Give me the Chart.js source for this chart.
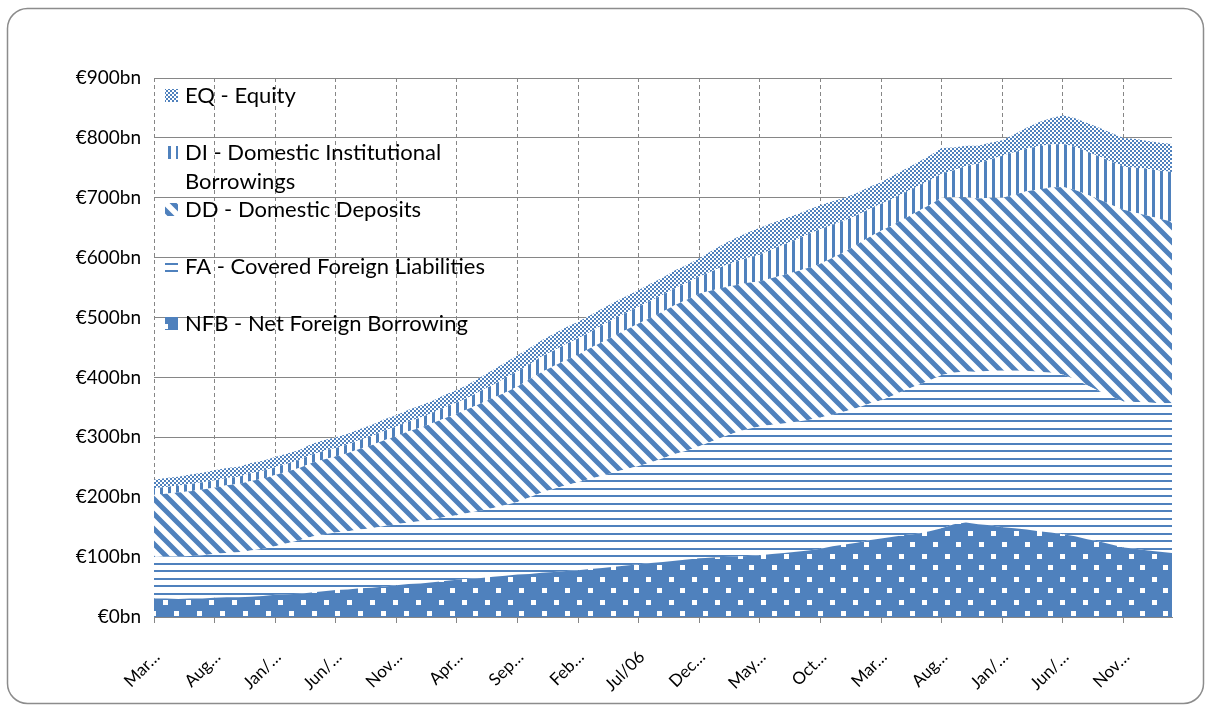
<!DOCTYPE html>
<html>
<head>
<meta charset="utf-8">
<title>Bank funding composition</title>
<script src="https://cdn.jsdelivr.net/npm/chart.js@4.4.1/dist/chart.umd.min.js"></script>
<style>
  html, body { margin: 0; padding: 0; background: #fff; }
  #wrap { position: relative; width: 1205px; height: 706px; }
</style>
</head>
<body>
<div id="wrap"><canvas id="fundingChart" width="1205" height="706"></canvas></div>
<script>
// Monthly categories, Mar/03 .. Mar/10
const monthNames = ['Jan', 'Feb', 'Mar', 'Apr', 'May', 'Jun', 'Jul', 'Aug', 'Sep', 'Oct', 'Nov', 'Dec'];
const months = [];
for (let m = 2; m <= 2 + 84; m++) {
    const yr = 3 + Math.floor(m / 12);
    months.push(monthNames[m % 12] + '/' + String(yr).padStart(2, '0'));
}

// Labels as they fit under the axis (every 5th month)
const tickLabels = ['Mar…', 'Aug…', 'Jan/…', 'Jun/…', 'Nov…', 'Apr…', 'Sep…', 'Feb…', 'Jul/06',
    'Dec…', 'May…', 'Oct…', 'Mar…', 'Aug…', 'Jan/…', 'Jun/…', 'Nov…'];

const seriesNames = ['NFB - Net Foreign Borrowing', 'FA - Covered Foreign Liabilities',
    'DD - Domestic Deposits', 'DI - Domestic Institutional Borrowings', 'EQ - Equity'];

// €bn, bottom of the stack first
const nfb = [31, 31, 30, 31, 31, 32, 33, 33, 34, 35, 37, 38, 39, 41, 43, 45, 46, 48, 49, 51, 53,
    55, 56, 58, 60, 62, 64, 65, 67, 69, 71, 72, 74, 75, 77, 78, 80, 82, 84, 86, 88,
    90, 92, 94, 96, 98, 99, 100, 101, 102, 103, 105, 107, 109, 111, 114, 118, 121, 124, 128, 131,
    134, 137, 139, 143, 148, 155, 158, 155, 153, 150, 148, 146, 143, 141, 138, 135, 130, 126, 121, 116,
    114, 111, 109, 107];
const fa = [69, 70, 71, 71, 72, 73, 74, 75, 77, 79, 81, 85, 89, 93, 95, 96, 97, 98, 99, 101, 102,
    103, 104, 105, 107, 108, 110, 113, 115, 118, 121, 128, 134, 139, 143, 147, 151, 154, 158, 161, 164,
    168, 173, 178, 182, 187, 194, 201, 207, 212, 215, 216, 216, 217, 218, 219, 220, 222, 225, 228, 231,
    236, 242, 248, 252, 256, 253, 252, 254, 258, 261, 263, 265, 266, 267, 267, 262, 257, 251, 247, 244,
    245, 247, 248, 250];
const dd = [104, 105, 107, 108, 110, 111, 113, 114, 116, 117, 119, 120, 121, 123, 125, 127, 131, 135, 139, 143, 147,
    152, 156, 161, 165, 170, 174, 179, 184, 188, 193, 197, 201, 205, 209, 213, 218, 223, 228, 233, 238,
    242, 245, 249, 252, 255, 252, 249, 246, 244, 242, 245, 248, 251, 254, 257, 262, 267, 273, 278, 283,
    285, 287, 290, 293, 296, 293, 291, 290, 289, 289, 294, 300, 305, 309, 313, 316, 318, 320, 320, 320,
    316, 312, 308, 303];
const di = [11, 11, 11, 12, 12, 12, 12, 12, 13, 13, 13, 13, 13, 14, 14, 14, 14, 15, 15, 16, 16,
    16, 17, 17, 18, 18, 19, 21, 22, 24, 25, 25, 26, 26, 27, 27, 27, 28, 28, 28, 28,
    28, 28, 28, 28, 28, 32, 36, 39, 42, 45, 48, 51, 53, 56, 58, 55, 52, 49, 47, 45,
    44, 43, 42, 41, 40, 45, 52, 58, 64, 70, 71, 71, 72, 72, 72, 72, 72, 72, 72, 72,
    75, 78, 80, 83];
const eq = [14, 15, 15, 16, 16, 17, 17, 17, 17, 17, 17, 17, 17, 18, 18, 18, 18, 18, 19, 19, 19,
    20, 20, 20, 21, 21, 22, 23, 25, 26, 27, 27, 27, 28, 28, 28, 28, 28, 28, 28, 28,
    29, 29, 30, 30, 31, 34, 37, 40, 42, 45, 44, 43, 42, 41, 40, 39, 38, 37, 37, 36,
    38, 39, 40, 41, 43, 38, 34, 30, 28, 26, 30, 35, 40, 44, 48, 48, 48, 48, 48, 48,
    48, 47, 47, 47];

const BLUE = '#4f81bd';
const GRID = '#868686';
const FONT = 'Lato, "Liberation Sans", sans-serif';

// Small repeating tiles for the hatched fills
function makePattern(w, h, paint) {
    const c = document.createElement('canvas');
    c.width = w;
    c.height = h;
    const g = c.getContext('2d');
    g.fillStyle = '#fff';
    g.fillRect(0, 0, w, h);
    g.fillStyle = BLUE;
    g.strokeStyle = BLUE;
    paint(g, w, h);
    return g.createPattern(c, 'repeat');
}

const patDots = makePattern(23, 23, g => {
    g.fillRect(0, 0, 23, 23);
    g.fillStyle = '#fff';
    g.fillRect(2, 2, 5, 5);
    g.fillRect(13, 13, 5, 5);
});
const patHoriz = makePattern(4, 15, g => {
    g.fillRect(0, 0, 4, 2);
    g.fillRect(0, 8, 4, 2);
});
const patDiag = makePattern(15, 15, g => {
    g.lineWidth = 5;
    g.beginPath();
    for (const off of [-15, 0, 15]) {
        g.moveTo(off - 3, -3);
        g.lineTo(off + 18, 18);
    }
    g.stroke();
});
const patVert = makePattern(8, 4, g => {
    g.fillRect(0, 0, 3, 4);
});
const patCheck = makePattern(4, 4, g => {
    g.fillRect(0, 0, 2, 2);
    g.fillRect(2, 2, 2, 2);
});

const fills = [patDots, patHoriz, patDiag, patVert, patCheck];
const values = [nfb, fa, dd, di, eq];

// Key drawn inside the plot, top entry = top of the stack
const seriesKey = {
    id: 'seriesKey',
    afterDraw(chart) {
        const ctx = chart.ctx;
        ctx.save();
        ctx.font = '22px ' + FONT;
        ctx.fillStyle = '#000';
        ctx.textBaseline = 'middle';
        const maxW = 310;
        for (let k = 0; k < seriesNames.length; k++) {
            const idx = seriesNames.length - 1 - k;
            const y = 96 + k * 57;
            ctx.fillStyle = fills[idx];
            ctx.fillRect(165, y - 7, 13, 13);

            // wrap long names onto a second line
            const words = seriesNames[idx].split(' ');
            const lines = [];
            let line = '';
            for (const w of words) {
                const test = line ? line + ' ' + w : w;
                if (ctx.measureText(test).width > maxW && line) {
                    lines.push(line);
                    line = w;
                } else {
                    line = test;
                }
            }
            lines.push(line);
            ctx.fillStyle = '#000';
            lines.forEach((t, j) => ctx.fillText(t, 185, y + j * 29));
        }
        ctx.restore();

        // rounded outer frame
        ctx.save();
        ctx.strokeStyle = '#8c8c8c';
        ctx.lineWidth = 1.5;
        ctx.beginPath();
        ctx.roundRect(7.5, 8.5, 1196, 695, 20);
        ctx.stroke();
        ctx.restore();
    }
};

new Chart(document.getElementById('fundingChart'), {
    type: 'line',
    data: {
        labels: months,
        datasets: values.map((v, i) => ({
            label: seriesNames[i],
            data: v,
            backgroundColor: fills[i],
            borderWidth: 0,
            pointRadius: 0,
            fill: i === 0 ? 'origin' : '-1',
            tension: 0
        }))
    },
    options: {
        responsive: false,
        animation: false,
        layout: { padding: { left: 0, right: 33, top: 78, bottom: 0 } },
        plugins: {
            legend: { display: false },
            tooltip: { enabled: false }
        },
        scales: {
            x: {
                offset: false,
                afterFit: s => {
                    s.height = 89;
                    // plot edges are fixed by the layout padding, not by label overhang
                    s.paddingLeft = 0;
                    s.paddingRight = 0;
                },
                border: { display: true, color: GRID, width: 1, dash: [4, 3] },
                grid: {
                    color: c => (c.index % 5 === 0 ? GRID : 'transparent'),
                    tickColor: c => (c.index % 5 === 0 ? GRID : 'transparent'),
                    tickLength: 6,
                    tickBorderDash: []
                },
                ticks: {
                    autoSkip: false,
                    maxRotation: 45,
                    minRotation: 45,
                    padding: 24,
                    labelOffset: 3,
                    color: '#000',
                    font: { family: FONT, size: 17 },
                    callback: (v, i) => (i % 5 === 0 ? tickLabels[i / 5] : '')
                }
            },
            y: {
                stacked: true,
                min: 0,
                max: 900,
                afterFit: s => { s.width = 154; },
                border: { display: false },
                grid: { color: GRID, drawTicks: false },
                ticks: {
                    stepSize: 100,
                    padding: 13,
                    color: '#000',
                    font: { family: FONT, size: 19 },
                    callback: v => '€' + v + 'bn'
                }
            }
        }
    },
    plugins: [seriesKey]
});
</script>
</body>
</html>
